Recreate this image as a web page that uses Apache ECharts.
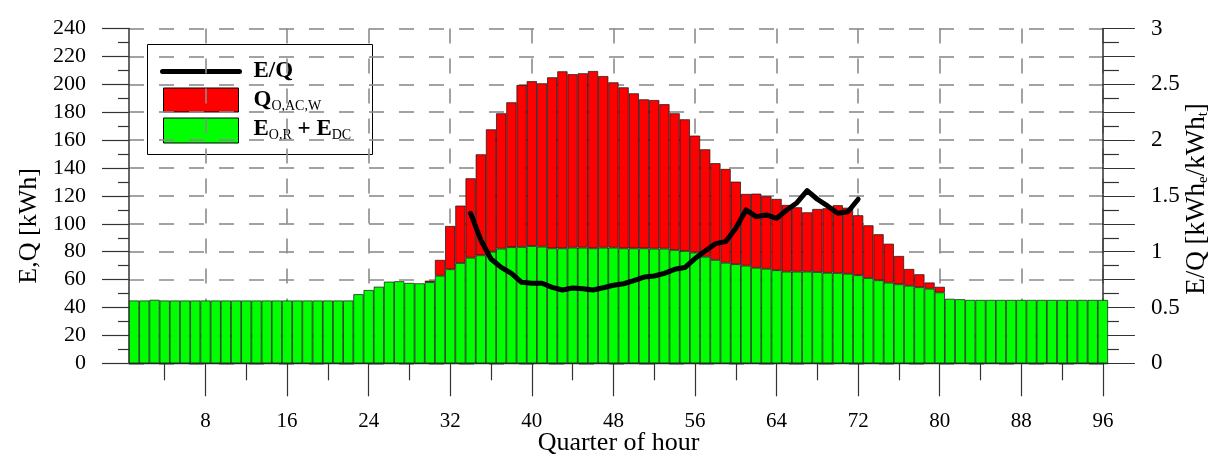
<!DOCTYPE html>
<html>
<head>
<meta charset="utf-8">
<script src="https://cdn.jsdelivr.net/npm/echarts@6/dist/echarts.min.js"></script>
<style>
  html, body { margin: 0; padding: 0; background: #ffffff; }
  #chart { width: 1225px; height: 456px; }
</style>
</head>
<body>
<div id="chart"></div>
<script>
// Quarter-hour slots of one day (1 .. 96)
const quarters = Array.from({ length: 96 }, (_, i) => i + 1);

// Electricity E_O,R + E_DC per quarter hour [kWh]
const electricity = [
  45.0, 45.0, 45.5, 45.0, 45.0, 45.0, 45.0, 45.0,
  45.0, 45.0, 45.0, 45.0, 45.0, 45.0, 45.0, 45.0,
  45.0, 45.0, 45.0, 45.0, 45.0, 45.0, 49.5, 52.5,
  54.9, 58.5, 58.8, 57.6, 57.3, 58.1, 62.8, 67.4,
  71.9, 75.7, 77.4, 80.0, 82.2, 83.2, 83.4, 84.1,
  83.6, 82.4, 82.4, 82.9, 82.9, 82.4, 82.9, 82.9,
  82.4, 82.4, 82.4, 82.2, 82.2, 81.2, 80.5, 79.4,
  76.4, 74.1, 72.1, 71.0, 70.0, 68.5, 67.8, 66.7,
  65.7, 65.7, 65.7, 65.4, 64.9, 64.7, 64.2, 63.1,
  61.1, 59.5, 57.8, 56.6, 55.6, 54.5, 53.5, 50.8,
  46.2, 45.9, 45.4, 45.4, 45.4, 45.4, 45.4, 45.4,
  45.4, 45.4, 45.4, 45.4, 45.4, 45.4, 45.4, 45.4
];

// Cooling heat Q_O,AC,W per quarter hour [kWh] (stacked on top of electricity)
const cooling = [
  0, 0, 0, 0, 0, 0, 0, 0,
  0, 0, 0, 0, 0, 0, 0, 0,
  0, 0, 0, 0, 0, 0, 0, 0,
  0, 0, 0, 0, 0, 1.1, 11.3, 31.0,
  41.1, 56.9, 72.4, 87.7, 97.0, 103.9, 116.1, 118.1,
  117.1, 122.6, 126.9, 124.3, 125.0, 127.1, 123.0, 118.5,
  115.4, 111.1, 106.8, 106.5, 103.5, 98.0, 94.4, 83.8,
  77.0, 69.3, 67.2, 59.2, 51.4, 53.1, 51.9, 51.1,
  47.8, 46.1, 42.5, 45.2, 46.2, 48.6, 47.3, 43.0,
  37.8, 33.0, 27.9, 20.3, 12.0, 9.3, 4.4, 4.0,
  0, 0, 0, 0, 0, 0, 0, 0,
  0, 0, 0, 0, 0, 0, 0, 0
];

// Ratio E/Q [kWh_e/kWh_t], quarters 34 .. 72
const ratioFirstQuarter = 34;
const ratio = [
  1.344, 1.105, 0.935, 0.860, 0.806, 0.726, 0.717,
  0.717, 0.681, 0.657, 0.675, 0.668, 0.657, 0.677, 0.699,
  0.713, 0.740, 0.773, 0.782, 0.806, 0.842, 0.858, 0.939,
  1.006, 1.072, 1.090, 1.210, 1.374, 1.314, 1.329, 1.299,
  1.374, 1.439, 1.547, 1.470, 1.410, 1.344, 1.358, 1.470
];

// Axis ticks and labels
const xMajorTicks = [8, 16, 24, 32, 40, 48, 56, 64, 72, 80, 88, 96];
const xMinorTicks = [4, 12, 20, 28, 36, 44, 52, 60, 68, 76, 84, 92];
const ratioLabels = [0, 0.5, 1, 1.5, 2, 2.5, 3];

const SERIF = 'Liberation Serif';
const AXIS_COLOR = '#333333';
const GRID_LINE = { color: '#8c8c8c', width: 1.6, type: [15, 15] };

const ratioSeries = quarters.map(q => {
  const k = q - ratioFirstQuarter;
  return k >= 0 && k < ratio.length ? ratio[k] : null;
});

const chart = echarts.init(document.getElementById('chart'), null, { renderer: 'canvas' });

const option = {
  animation: false,
  backgroundColor: '#ffffff',
  textStyle: { fontFamily: SERIF, color: '#000' },
  grid: {
    left: 129, right: 117, top: 28.5, bottom: 92.7,
    containLabel: false, outerBoundsMode: 'none'
  },
  xAxis: [
    {
      // one band per quarter hour; carries the bars and the ratio line
      type: 'category', data: quarters, boundaryGap: true, show: false
    },
    {
      // visible quarter-hour scale: long ticks, labels and vertical grid
      type: 'value', min: 0.5, max: 96.5, position: 'bottom',
      axisLine: { show: true, onZero: false, lineStyle: { color: AXIS_COLOR, width: 1.3 } },
      axisTick: { show: true, customValues: xMajorTicks, length: 33, lineStyle: { color: AXIS_COLOR, width: 1.2 } },
      axisLabel: { customValues: xMajorTicks, margin: 48, fontFamily: SERIF, fontSize: 21, color: '#000' },
      splitLine: { show: true, lineStyle: GRID_LINE },
      name: 'Quarter of hour', nameLocation: 'middle', nameGap: 67, nameMoveOverlap: false,
      nameTextStyle: { fontFamily: SERIF, fontSize: 26, color: '#000' }
    },
    {
      // short intermediate ticks
      type: 'value', min: 0.5, max: 96.5, position: 'bottom',
      axisLine: { show: false, onZero: false },
      axisTick: { show: true, customValues: xMinorTicks, length: 17, lineStyle: { color: AXIS_COLOR, width: 1.2 } },
      axisLabel: { show: false },
      splitLine: { show: false }
    }
  ],
  yAxis: [
    {
      type: 'value', min: 0, max: 240, interval: 20, position: 'left',
      axisLine: { show: true, lineStyle: { color: AXIS_COLOR, width: 1.5 } },
      axisTick: { show: true, length: 27, lineStyle: { color: AXIS_COLOR, width: 1.2 } },
      minorTick: { show: true, splitNumber: 2, length: 11, lineStyle: { color: AXIS_COLOR, width: 1.2 } },
      axisLabel: { margin: 43, fontFamily: SERIF, fontSize: 22, color: '#000', padding: [0, 0, 6, 0] },
      splitLine: { show: true, lineStyle: GRID_LINE },
      name: 'E,Q [kWh]', nameLocation: 'middle', nameGap: 87, nameMoveOverlap: false,
      nameTextStyle: { fontFamily: SERIF, fontSize: 26, color: '#000', padding: [0, 60, 0, 0] }
    },
    {
      type: 'value', min: 0, max: 3, interval: 0.25, position: 'right', offset: -5.1,
      axisLine: { show: true, lineStyle: { color: AXIS_COLOR, width: 1.5 } },
      axisTick: { show: true, length: 32, lineStyle: { color: AXIS_COLOR, width: 1.2 } },
      minorTick: { show: true, splitNumber: 2, length: 16, lineStyle: { color: AXIS_COLOR, width: 1.2 } },
      axisLabel: { customValues: ratioLabels, margin: 48, fontFamily: SERIF, fontSize: 23, color: '#000', padding: [0, 0, 16, 0] },
      splitLine: { show: false },
      name: '{n|E/Q [kWh}{s|e}{n|/kWh}{s|t}{n|]}', nameLocation: 'middle', nameGap: 81, nameMoveOverlap: false,
      nameTextStyle: {
        color: '#000', padding: [0, 6, 0, 0],
        rich: {
          n: { fontFamily: SERIF, fontSize: 27, lineHeight: 27, color: '#000' },
          s: { fontFamily: SERIF, fontSize: 15, lineHeight: 10, verticalAlign: 'bottom', color: '#000' }
        }
      }
    }
  ],
  series: [
    {
      name: 'E_O,R + E_DC', type: 'bar', stack: 'energy', barWidth: '100%', barCategoryGap: '0%',
      xAxisIndex: 0, yAxisIndex: 0,
      data: electricity,
      itemStyle: { color: '#00ff00', borderColor: '#111', borderWidth: 0.7 }
    },
    {
      name: 'Q_O,AC,W', type: 'bar', stack: 'energy', barWidth: '100%', barCategoryGap: '0%',
      xAxisIndex: 0, yAxisIndex: 0,
      data: cooling.map(v => (v > 0 ? v : '-')),
      itemStyle: { color: '#ff0000', borderColor: '#111', borderWidth: 0.7 }
    },
    {
      name: 'E/Q', type: 'line', xAxisIndex: 0, yAxisIndex: 1, z: 4,
      symbol: 'none', showSymbol: false, smooth: false,
      data: ratioSeries,
      lineStyle: { color: '#000', width: 5, cap: 'round', join: 'round' }
    }
  ],
  graphic: [
    {
      type: 'group', left: 147, top: 44, z: 100,
      children: [
        { type: 'rect', shape: { x: 0, y: 0, width: 225, height: 110 },
          style: { fill: '#ffffff', stroke: '#000', lineWidth: 1 } },
        { type: 'line', shape: { x1: 15, y1: 27, x2: 92, y2: 27 },
          style: { stroke: '#000', lineWidth: 5, lineCap: 'round' } },
        { type: 'rect', shape: { x: 16, y: 43.5, width: 75, height: 24 },
          style: { fill: '#ff0000', stroke: '#000', lineWidth: 1 } },
        { type: 'rect', shape: { x: 16, y: 73.5, width: 75, height: 25 },
          style: { fill: '#00ff00', stroke: '#000', lineWidth: 1 } },
        { type: 'text', x: 106, y: 27,
          style: { text: '{b|E/Q}', verticalAlign: 'middle',
            rich: { b: { fontFamily: SERIF, fontWeight: 'bold', fontSize: 23, lineHeight: 26, fill: '#000' } } } },
        { type: 'text', x: 106, y: 56,
          style: { text: '{b|Q}{s|O,AC,W}', verticalAlign: 'middle',
            rich: {
              b: { fontFamily: SERIF, fontWeight: 'bold', fontSize: 23, lineHeight: 26, fill: '#000' },
              s: { fontFamily: SERIF, fontSize: 14, lineHeight: 14, verticalAlign: 'bottom', fill: '#000' }
            } } },
        { type: 'text', x: 106, y: 85,
          style: { text: '{b|E}{s|O,R}{b| + E}{s|DC}', verticalAlign: 'middle',
            rich: {
              b: { fontFamily: SERIF, fontWeight: 'bold', fontSize: 23, lineHeight: 26, fill: '#000' },
              s: { fontFamily: SERIF, fontSize: 14, lineHeight: 14, verticalAlign: 'bottom', fill: '#000' }
            } } }
      ]
    }
  ]
};

chart.setOption(option);
</script>
</body>
</html>
